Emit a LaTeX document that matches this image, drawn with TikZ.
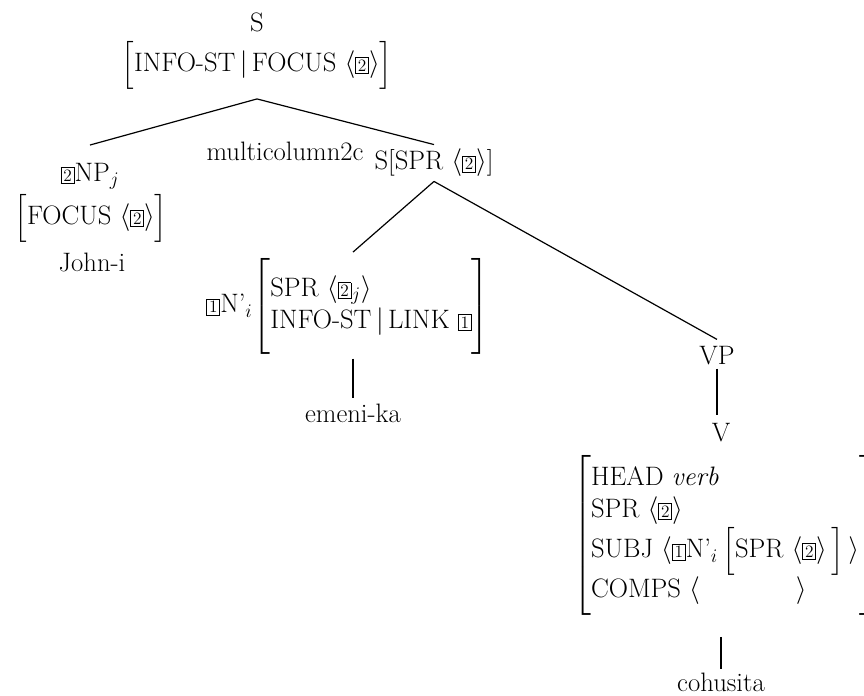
\documentclass[tikz,border=0pt]{standalone}
\usepackage{amssymb}
\usepackage{amsmath}
\usepackage{tikz}

\newcommand{\tagnum}[1]{{\setlength{\fboxsep}{1.4pt}\setlength{\fboxrule}{0.6pt}\fbox{\fontsize{13}{13}\selectfont #1}}}
\newcommand{\featbox}[2][5pt]{$\left[\vcenter{\vskip#1\hbox{\begin{tabular}{@{}l@{}}#2\end{tabular}}\vskip#1}\right]$}

\begin{document}
\begin{tikzpicture}[x=0.75pt,y=-0.75pt,font=\fontsize{20}{24}\selectfont,line width=0.9pt]
\useasboundingbox (0,0) rectangle (864,696);
\begin{scope}[every node/.style={inner sep=2pt}]
    \node (s) at (257,22) {S};
    \node (sfeat) at (257,65) {\featbox{INFO-ST\,$|$\,FOCUS $\langle$\tagnum{2}$\rangle$}};
    \node (np) at (90,176) {\tagnum{2}NP$_j$};
    \node (npfeat) at (91,218) {\featbox[6pt]{FOCUS $\langle$\tagnum{2}$\rangle$}};
    \node (john) at (92,262) {John-i};
    \node (mc) at (285,151) {multicolumn2c};
    \node (sspr) at (434,163) {S[SPR $\langle$\tagnum{2}$\rangle$]};
    \node (nbar) at (348,306) {\tagnum{1}N'$_i$\featbox[9pt]{SPR $\langle$\tagnum{2}$_j\rangle$\\ INFO-ST\,$|$\,LINK \tagnum{1}}};
    \node (emeni) at (353,413) {emeni-ka};
    \node (vp) at (717,356) {VP};
    \node (v) at (721,433) {V};
    \node[anchor=west] (vfeat) at (570,535) {\featbox[6pt]{HEAD \textit{verb}\\ SPR $\langle$\tagnum{2}$\rangle$\\ SUBJ $\langle$\tagnum{1}N'$_i$\,\featbox[4pt]{SPR $\langle$\tagnum{2}$\rangle$\,}\,$\rangle$\\ COMPS $\langle$\hspace{3.6em}$\rangle$}};
    \node (cohusita) at (721,682) {cohusita};
\end{scope}

\draw ([yshift=-5pt]sfeat.south) -- ([yshift=11pt]np.north);
\draw ([yshift=-5pt]sfeat.south) -- ([yshift=1pt]sspr.north);
\draw ([yshift=-1pt]sspr.south) -- ([yshift=2pt]emeni.north |- nbar.north);
\draw ([yshift=-1pt]sspr.south) -- ([yshift=3pt]vp.north);
\draw ([yshift=-1pt]emeni.north |- nbar.south) -- ([yshift=2pt]emeni.north);
\draw (vp.south) -- ([yshift=4pt]vp.south |- v.north);
\draw ([yshift=-14pt]cohusita.north |- vfeat.south) -- (cohusita.north);
\end{tikzpicture}
\end{document}
